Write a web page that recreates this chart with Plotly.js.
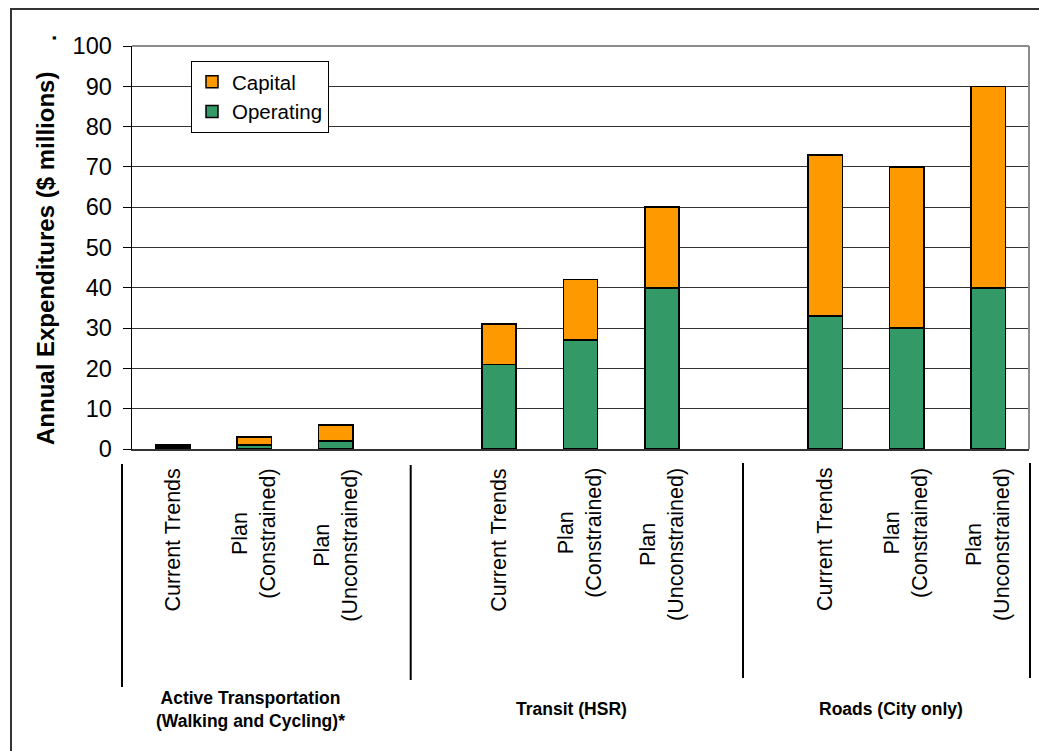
<!DOCTYPE html>
<html>
<head>
<meta charset="utf-8">
<script src="https://cdn.plot.ly/plotly-3.0.1.min.js"></script>
<style>html,body{margin:0;padding:0;background:#fff;}#chart{width:1039px;height:751px;}</style>
</head>
<body>
<div id="chart"></div>
<script>
// ---- data ----
const groups = ["Active Transportation<br>(Walking and Cycling)*", "Transit (HSR)", "Roads (City only)"];
const scenarios = ["Current Trends", "Plan<br>(Constrained)", "Plan<br>(Unconstrained)"];
const operating = [0.5, 1, 2, 21, 27, 40, 33, 30, 40];
const capital = [0.5, 2, 4, 10, 15, 20, 40, 40, 50];
const yTicks = [0, 10, 20, 30, 40, 50, 60, 70, 80, 90, 100];
const yTitle = "Annual Expenditures ($ millions)";

// positions: each group takes 3 slots plus one blank slot
const xs = [], labels = [];
groups.forEach((g, gi) => scenarios.forEach((s, si) => { xs.push(gi * 4 + si); labels.push(s); }));

const FONT = "Liberation Sans, Arial, sans-serif";
const lineStyle = {color: "#000", width: 1.5};

const traces = [
  {type: "bar", name: "Operating", x: xs, y: operating, marker: {color: "#339966", line: lineStyle}},
  {type: "bar", name: "Capital", x: xs, y: capital, marker: {color: "#FF9900", line: lineStyle}}
];

const annotations = [];
// category labels (rotated, centre-aligned)
xs.forEach((x, i) => annotations.push({
  x: x, xref: "x", y: -0.043, yref: "paper", yanchor: "top", xanchor: "center",
  text: labels[i], textangle: -90, showarrow: false, align: "center",
  font: {family: FONT, size: 21.5, color: "#000"}
}));
// group labels
const groupPx = [250, 571, 891];
groups.forEach((g, gi) => annotations.push({
  x: (groupPx[gi] - 132) / 897, xref: "paper", y: (449 - 709) / 403, yref: "paper",
  xanchor: "center", yanchor: "middle", text: "<b>" + g + "</b>", showarrow: false, align: "center",
  font: {family: FONT, size: 17.5, color: "#000"}
}));
// y title
annotations.push({
  x: (45.5 - 132) / 897, xref: "paper", y: (449 - 258.5) / 403, yref: "paper",
  xanchor: "center", yanchor: "middle", text: "<b>" + yTitle + "</b>", textangle: -90,
  showarrow: false, font: {family: FONT, size: 24, color: "#000"}
});
annotations.push({
  x: (48 - 132) / 897, xref: "paper", y: (449 - 38) / 403, yref: "paper",
  xanchor: "center", yanchor: "middle", text: "<b>.</b>", textangle: -90,
  showarrow: false, font: {family: FONT, size: 22, color: "#000"}
});

const shapes = [
  // outer frame
  {type: "rect", xref: "paper", yref: "paper", x0: (11 - 132) / 897, x1: (1060 - 132) / 897,
   y0: (449 - 770) / 403, y1: (449 - 9) / 403, line: {color: "#333", width: 2}},
  // plot border top/right (grey)
  {type: "line", xref: "paper", yref: "paper", x0: 0, x1: 1, y0: 1, y1: 1, line: {color: "#8c8c8c", width: 2}},
  {type: "line", xref: "paper", yref: "paper", x0: 1, x1: 1, y0: 0, y1: 1, line: {color: "#8c8c8c", width: 2}}
];
// group separators below the axis
[[122, 464, 687], [410.7, 465, 680], [743, 463, 678], [1030, 463, 678]].forEach(p => shapes.push({
  type: "line", xref: "paper", yref: "paper", x0: (p[0] - 132) / 897, x1: (p[0] - 132) / 897,
  y0: (449 - p[1]) / 403, y1: (449 - p[2]) / 403, line: {color: "#000", width: 2}
}));

const layout = {
  width: 1039, height: 751,
  margin: {l: 132, r: 10, t: 46, b: 302, pad: 0},
  paper_bgcolor: "#fff", plot_bgcolor: "#fff",
  barmode: "stack", bargap: 0.58,
  showlegend: true,
  legend: {x: (191 - 132) / 897, y: (449 - 61) / 403, xanchor: "left", yanchor: "top",
    bgcolor: "#fff", bordercolor: "#000", borderwidth: 1, traceorder: "reversed",
    font: {family: FONT, size: 20.5, color: "#000"}, itemwidth: 30, tracegroupgap: 0},
  xaxis: {range: [-0.5, 10.5], showticklabels: false, ticks: "", showgrid: false, zeroline: false,
    showline: true, linecolor: "#333", linewidth: 2, fixedrange: true},
  yaxis: {range: [0, 100], tickvals: yTicks, ticks: "outside", ticklen: 8, tickcolor: "#000", tickwidth: 1,
    ticklabelstandoff: 6,
    showgrid: true, gridcolor: "#333", gridwidth: 1, zeroline: false,
    showline: true, linecolor: "#000", linewidth: 1.5,
    tickfont: {family: FONT, size: 23.5, color: "#000"}, fixedrange: true},
  annotations: annotations,
  shapes: shapes,
  font: {family: FONT, color: "#000"}
};

Plotly.newPlot("chart", traces, layout, {displayModeBar: false, staticPlot: true});
</script>
</body>
</html>
